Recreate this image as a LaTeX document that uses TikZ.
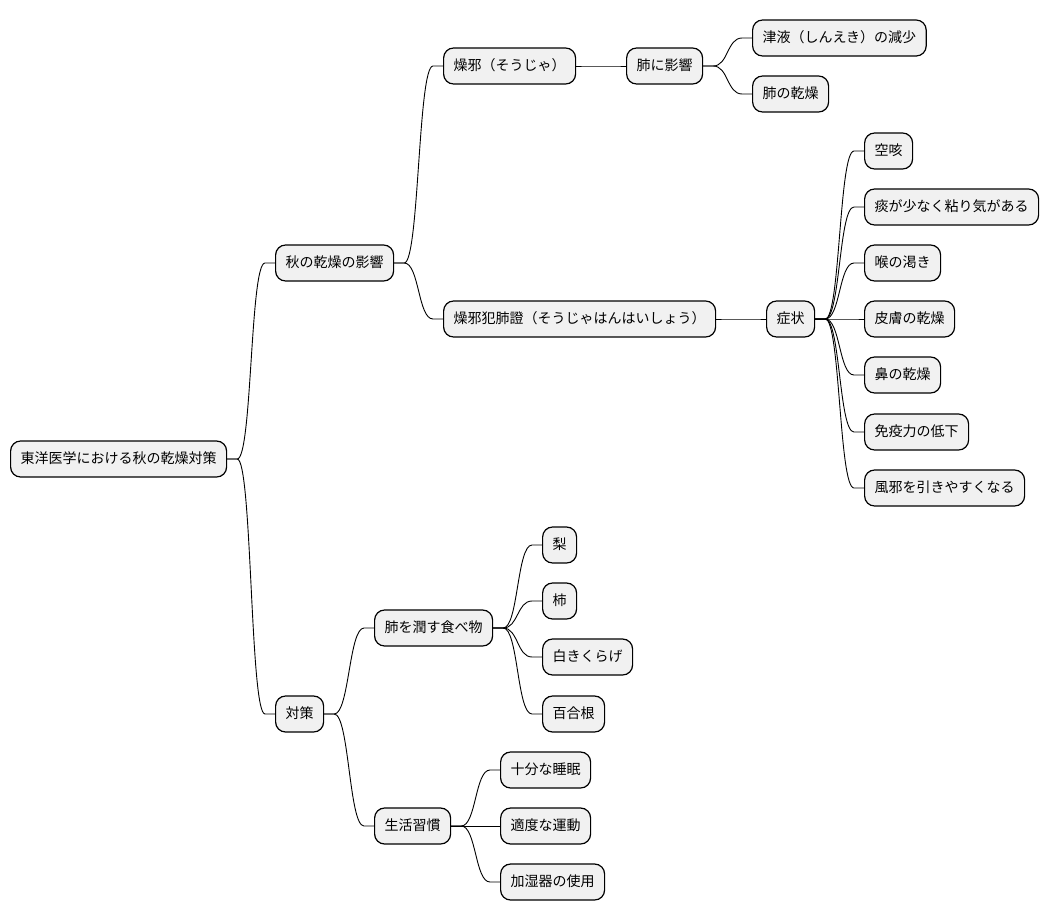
\documentclass[tikz,border=0pt]{standalone}
\usepackage{fontspec}
\setmainfont{Noto Sans CJK JP}
\usepackage{tikz}
\usetikzlibrary{calc}
\definecolor{mmfill}{HTML}{F1F1F1}
\tikzset{
  mmnode/.style={rectangle, rounded corners=10pt, draw=black, line width=1.2pt, fill=mmfill, anchor=west,
    minimum height=36pt, inner xsep=10pt, text height=11pt, text depth=3pt, font=\fontsize{14}{17}\selectfont},
  link/.style={draw=black, line width=0.9pt},
}
\begin{document}
\begin{tikzpicture}[x=1pt,y=-1pt]
  \useasboundingbox[fill=white] (0,0) rectangle (1048,921);
  % root and first level
  \node[mmnode] (root) at (10,459) {東洋医学における秋の乾燥対策};
  \node[mmnode] (aki) at (275,263) {秋の乾燥の影響};
  \node[mmnode] (taisaku) at (275,714) {対策};
  % dryness branch
  \node[mmnode] (souja) at (443,66) {燥邪（そうじゃ）};
  \node[mmnode] (souhai) at (443,319) {燥邪犯肺證（そうじゃはんはいしょう）};
  \node[mmnode] (haiei) at (626,66) {肺に影響};
  \node[mmnode] (shinneki) at (752,38) {津液（しんえき）の減少};
  \node[mmnode] (haikan) at (752,94) {肺の乾燥};
  \node[mmnode] (shojo) at (766,319) {症状};
  \node[mmnode] (karaseki) at (864,151) {空咳};
  \node[mmnode] (tan) at (864,207) {痰が少なく粘り気がある};
  \node[mmnode] (nodo) at (864,263) {喉の渇き};
  \node[mmnode] (hifu) at (864,319) {皮膚の乾燥};
  \node[mmnode] (hana) at (864,375) {鼻の乾燥};
  \node[mmnode] (meneki) at (864,432) {免疫力の低下};
  \node[mmnode] (kaze) at (864,488) {風邪を引きやすくなる};
  % countermeasure branch
  \node[mmnode] (tabemono) at (374,628) {肺を潤す食べ物};
  \node[mmnode] (nashi) at (542,545) {梨};
  \node[mmnode] (kaki) at (542,601) {柿};
  \node[mmnode] (kikurage) at (542,657) {白きくらげ};
  \node[mmnode] (yurine) at (542,714) {百合根};
  \node[mmnode] (seikatsu) at (374,826) {生活習慣};
  \node[mmnode] (suimin) at (500,770) {十分な睡眠};
  \node[mmnode] (undo) at (500,826) {適度な運動};
  \node[mmnode] (kashitsu) at (500,882) {加湿器の使用};
  % connectors
  \foreach \p/\c in {root/aki, root/taisaku, aki/souja, aki/souhai, souja/haiei, haiei/shinneki, haiei/haikan,
      souhai/shojo, shojo/karaseki, shojo/tan, shojo/nodo, shojo/hifu, shojo/hana, shojo/meneki, shojo/kaze,
      taisaku/tabemono, taisaku/seikatsu, tabemono/nashi, tabemono/kaki, tabemono/kikurage, tabemono/yurine,
      seikatsu/suimin, seikatsu/undo, seikatsu/kashitsu}
    \draw[link] (\p.east) -- ++(10,0) .. controls +(15,0) and +(-15,0) .. ($(\c.west)+(-10,0)$) -- (\c.west);
\end{tikzpicture}
\end{document}
